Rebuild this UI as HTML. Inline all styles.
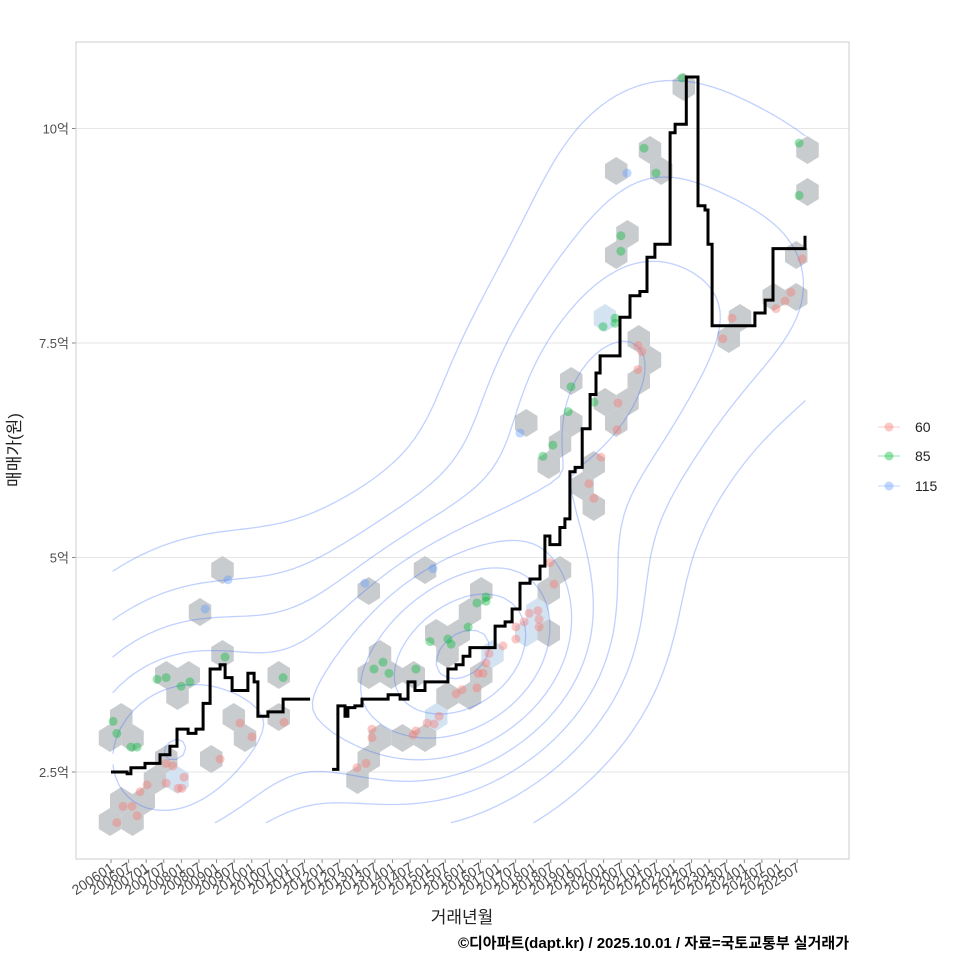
<!DOCTYPE html>
<html><head><meta charset="utf-8"><style>
html,body{margin:0;padding:0;background:#fff;}
svg text{font-family:"Liberation Sans","Noto Sans CJK KR",sans-serif;}
</style></head><body>
<svg id="chart" width="960" height="960" viewBox="0 0 960 960" xmlns="http://www.w3.org/2000/svg">
<rect x="0" y="0" width="960" height="960" fill="#fff"/>
<g id="grid"></g><g id="hexes"></g><g id="contours"></g><g id="points"></g><g id="line"></g><g id="axes"></g>
<rect x="76" y="42" width="773" height="817" fill="none" stroke="#cccccc" stroke-width="1"/>
<text x="462" y="923" font-size="17" fill="#222" text-anchor="middle">거래년월</text>
<text transform="translate(20,450) rotate(-90)" font-size="17" fill="#222" text-anchor="middle">매매가(원)</text>
<text x="849" y="948" font-size="15" font-weight="bold" fill="#000" text-anchor="end">©디아파트(dapt.kr) / 2025.10.01 / 자료=국토교통부 실거래가</text>
<g>
<g><line x1="878" y1="427" x2="900" y2="427" stroke="#F8766D" stroke-opacity="0.4"/><circle cx="889" cy="427" r="4.5" fill="#F8766D" fill-opacity="0.4"/><text x="915" y="432" font-size="14" fill="#222">60</text></g>
<g><line x1="878" y1="456" x2="900" y2="456" stroke="#00BA38" stroke-opacity="0.4"/><circle cx="889" cy="456" r="4.5" fill="#00BA38" fill-opacity="0.4"/><text x="915" y="461" font-size="14" fill="#222">85</text></g>
<g><line x1="878" y1="486" x2="900" y2="486" stroke="#619CFF" stroke-opacity="0.4"/><circle cx="889" cy="486" r="4.5" fill="#619CFF" fill-opacity="0.4"/><text x="915" y="491" font-size="14" fill="#222">115</text></g>
</g>
</svg>
<script>
// months since 2006-01 for the step line and its values (억)
const lineMonths=[0,5.5,6.8,11.6,16.7,20.1,22.5,26.3,29,31.4,33.8,37.2,38.9,41.3,45.7,46.7,48.8,50.1,53.5,57.6,58.7,67.9];
const lineValues=[2.5,2.48,2.55,2.6,2.7,2.8,3.0,2.95,3.0,3.3,3.7,3.75,3.6,3.45,3.45,3.65,3.55,3.15,3.2,3.2,3.35,3.35];
const line2Months=[75.4,77.4,79.8,80.8,83.2,85.6,93.5,94.5,98.6,101.3,103.7,107.1,112.2,114.9,117.7,120.1,122.4,129.3,131,134.4,136.8,139.5,142.9,146.3,148,149.7,153.1,154.8,156.5,158.3,160.7,163.4,165.4,166.8,171.9,173.6,177,180.4,182.8,185.5,189,190.7,192.4,195.2,196.2,198.8,200.2,202.6,203.6,205,217.3,219.6,223.1,225.1,225.8,235,236.7];
const line2Values=[2.53,3.27,3.15,3.25,3.27,3.35,3.35,3.4,3.35,3.55,3.45,3.55,3.55,3.7,3.75,3.85,3.95,3.95,4.2,4.25,4.4,4.7,4.75,4.9,5.25,5.15,5.35,5.45,6.0,6.05,6.5,6.9,7.15,7.35,7.35,7.8,8.05,8.1,8.5,8.65,8.65,9.95,10.05,10.05,10.6,10.6,9.1,9.05,8.65,7.7,7.7,7.85,8.0,8.0,8.6,8.6,8.75];
// transactions: month, value, size
const ptMonths=[0.7,2.0,6.8,8.9,15.7,18.8,23.9,26.9,38.9,58.7,89.7,92.8,94.8,104.0,108.8,114.9,116.0,121.8,124.8,127.9,127.9,194.7,181.8,185.9,173.9,173.9,167.8,171.9,171.9,156.9,164.7,155.9,150.7,147.3,234.7,234.7,
39.9,32.1,86.6,109.8,176.0,139.5,
2.0,4.1,7.2,8.9,9.9,12.3,18.8,21.1,18.8,22.9,24.2,24.9,37.2,44.0,48.1,59.0,83.9,87.0,89.0,89.0,103.0,104.0,107.8,110.2,111.9,117.7,119.7,124.8,125.2,126.9,127.9,128.9,133.7,138.1,138.1,140.9,142.6,145.6,146.0,146.0,149.7,151.1,179.7,181.1,179.7,172.9,172.6,167.1,163.0,164.7,211.8,208.7,226.8,229.9,231.9,235.7];
const ptValues=[3.09,2.95,2.79,2.79,3.58,3.60,3.50,3.55,3.84,3.60,3.70,3.78,3.65,3.70,4.02,4.05,3.99,4.19,4.47,4.54,4.49,10.59,9.77,9.48,8.75,8.57,7.69,7.79,7.73,6.99,6.81,6.70,6.31,6.18,9.83,9.22,
4.74,4.40,4.70,4.87,9.48,6.45,
1.91,2.10,2.10,1.99,2.27,2.35,2.60,2.57,2.37,2.31,2.31,2.44,2.65,3.07,2.91,3.08,2.55,2.60,3.00,2.90,2.93,2.98,3.07,3.06,3.15,3.41,3.46,3.48,3.65,3.65,3.77,3.88,3.97,4.05,4.19,4.25,4.35,4.38,4.28,4.19,4.94,4.69,7.47,7.40,7.19,6.80,6.49,6.17,5.86,5.69,7.79,7.55,7.90,7.99,8.09,8.48];
const ptSizes=[].concat(Array(36).fill('85'),Array(6).fill('115'),Array(56).fill('60'));
const yTicks=[2.5,5,7.5,10];
const yTickLabels=['2.5억','5억','7.5억','10억'];
const xTickLabels=[];for(let y=2006;y<=2025;y++){xTickLabels.push(y+'01');xTickLabels.push(y+'07');}

const NS='http://www.w3.org/2000/svg';
const X=m=>111+m*2.932;
const Y=v=>772-(v-2.5)*85.8;
function mk(tag,attrs,parent){const e=document.createElementNS(NS,tag);for(const k in attrs)e.setAttribute(k,attrs[k]);parent.appendChild(e);return e;}
const colors={'60':'#F8766D','85':'#00BA38','115':'#619CFF'};

const grid=document.getElementById('grid'),axes=document.getElementById('axes');
yTicks.forEach((t,i)=>{
  const g=mk('line',{x1:76,x2:849,y1:Y(t),y2:Y(t),stroke:'#e6e6e6','stroke-width':1},grid);
  
  
  const tx=mk('text',{x:69,y:Y(t)+5,'font-size':13,fill:'#4d4d4d','text-anchor':'end'},axes);
  tx.textContent=yTickLabels[i];
  
  
  mk('line',{x1:72,x2:76,y1:Y(t),y2:Y(t),stroke:'#888'},axes);
});
xTickLabels.forEach((l,i)=>{
  const x=X(i*6);
  mk('line',{x1:x,x2:x,y1:859,y2:863,stroke:'#888'},axes);
  const tx=mk('text',{transform:`translate(${x+4},${870}) rotate(-33)`,'font-size':14,fill:'#4d4d4d','text-anchor':'end'},axes);
  tx.textContent=l;
  
  
});

// hexbins in pixel space
const hexG=document.getElementById('hexes');
const cw=22.5,rh=21,rv=14,ox=110,oy=150;
const bins={};
ptMonths.forEach((m,i)=>{
  const px=X(m),py=Y(ptValues[i]);
  let best=null,bd=1e9;
  const r0=Math.round((py-oy)/rh);
  for(let r=r0-1;r<=r0+1;r++){
    const off=(r%2+2)%2?cw/2:0;
    const c0=Math.round((px-ox-off)/cw);
    for(let c=c0-1;c<=c0+1;c++){
      const cx=ox+off+c*cw,cy=oy+r*rh;
      const d=((px-cx)/cw)**2+((py-cy)/rh)**2;
      if(d<bd){bd=d;best=[cx,cy];}
    }
  }
  const k=best.join(',');bins[k]=(bins[k]||0)+1;
});
for(const k in bins){
  const [cx,cy]=k.split(',').map(Number);const hw=cw/2;
  const pts=[[cx,cy-rv],[cx+hw,cy-rv/2],[cx+hw,cy+rv/2],[cx,cy+rv],[cx-hw,cy+rv/2],[cx-hw,cy-rv/2]].map(p=>p.join(',')).join(' ');
  const h=mk('polygon',{points:pts,fill:bins[k]>=3?'#cfe0f1':'#c3c6ca','fill-opacity':0.9},hexG);
  
  
}

// 2D KDE contours
(function(){
  const n=ptMonths.length,N=100;
  function q(a,p){const s=[...a].sort((x,y)=>x-y);const h=(s.length-1)*p,l=Math.floor(h);return s[l]+(s[Math.min(l+1,s.length-1)]-s[l])*(h-l);}
  function bw(a){const m=a.reduce((s,v)=>s+v,0)/a.length;const sd=Math.sqrt(a.reduce((s,v)=>s+(v-m)**2,0)/(a.length-1));const iqr=(q(a,.75)-q(a,.25))/1.34;return 1.06*Math.min(sd,iqr)*Math.pow(a.length,-0.2);}
  const hx=bw(ptMonths),hy=bw(ptValues);
  const xmin=Math.min(...ptMonths),xmax=Math.max(...lineMonths,...line2Months,...ptMonths);
  const ymin=Math.min(...ptValues),ymax=Math.max(...ptValues);
  const gx=[],gy=[];for(let i=0;i<N;i++){gx.push(xmin+(xmax-xmin)*i/(N-1));gy.push(ymin+(ymax-ymin)*i/(N-1));}
  const z=[];let zmax=0;
  for(let i=0;i<N;i++){z.push([]);for(let j=0;j<N;j++){let s=0;for(let k=0;k<n;k++){s+=Math.exp(-0.5*(((gx[i]-ptMonths[k])/hx)**2+((gy[j]-ptValues[k])/hy)**2));}s/=n*2*Math.PI*hx*hy;z[i].push(s);if(s>zmax)zmax=s;}}
  const raw=zmax/10,p=Math.pow(10,Math.floor(Math.log10(raw)));let step=p;[1,2,5,10].forEach(f=>{if(Math.abs(f*p-raw)<Math.abs(step-raw))step=f*p;});
  const levels=[];for(let l=step;l<zmax;l+=step)levels.push(l);
  const cg=document.getElementById('contours');
  levels.forEach(L=>{
    let d='';
    for(let i=0;i<N-1;i++)for(let j=0;j<N-1;j++){
      const c=[[i,j],[i+1,j],[i+1,j+1],[i,j+1]];const v=c.map(([a,b])=>z[a][b]);
      const pts=[];
      for(let e=0;e<4;e++){const a=e,b=(e+1)%4;if((v[a]>=L)!==(v[b]>=L)){const t=(L-v[a])/(v[b]-v[a]);const xa=gx[c[a][0]],ya=gy[c[a][1]],xb=gx[c[b][0]],yb=gy[c[b][1]];pts.push([X(xa+(xb-xa)*t),Y(ya+(yb-ya)*t)]);}}
      for(let k=0;k+1<pts.length;k+=2)d+=`M${pts[k][0].toFixed(1)},${pts[k][1].toFixed(1)}L${pts[k+1][0].toFixed(1)},${pts[k+1][1].toFixed(1)}`;
    }
    const pa=mk('path',{d:d,fill:'none',stroke:'#3366FF','stroke-opacity':0.3,'stroke-width':1.3,'stroke-linecap':'round'},cg);
    
    
  });
})();

const pg=document.getElementById('points');
ptMonths.forEach((m,i)=>{
  const c=mk('circle',{cx:X(m),cy:Y(ptValues[i]),r:4.5,fill:colors[ptSizes[i]],'fill-opacity':0.4},pg);
  
  
});

function step(ms,vs){let d=`M${X(ms[0])},${Y(vs[0])}`;for(let i=1;i<ms.length;i++){d+=`H${X(ms[i]).toFixed(1)}V${Y(vs[i]).toFixed(1)}`;}return d;}
const lg=document.getElementById('line');
[[lineMonths,lineValues],[line2Months,line2Values]].forEach(([m,v])=>{
  const pa=mk('path',{d:step(m,v),fill:'none',stroke:'#000','stroke-width':3,'stroke-linejoin':'miter'},lg);
  
  
});
</script>
</body></html>
